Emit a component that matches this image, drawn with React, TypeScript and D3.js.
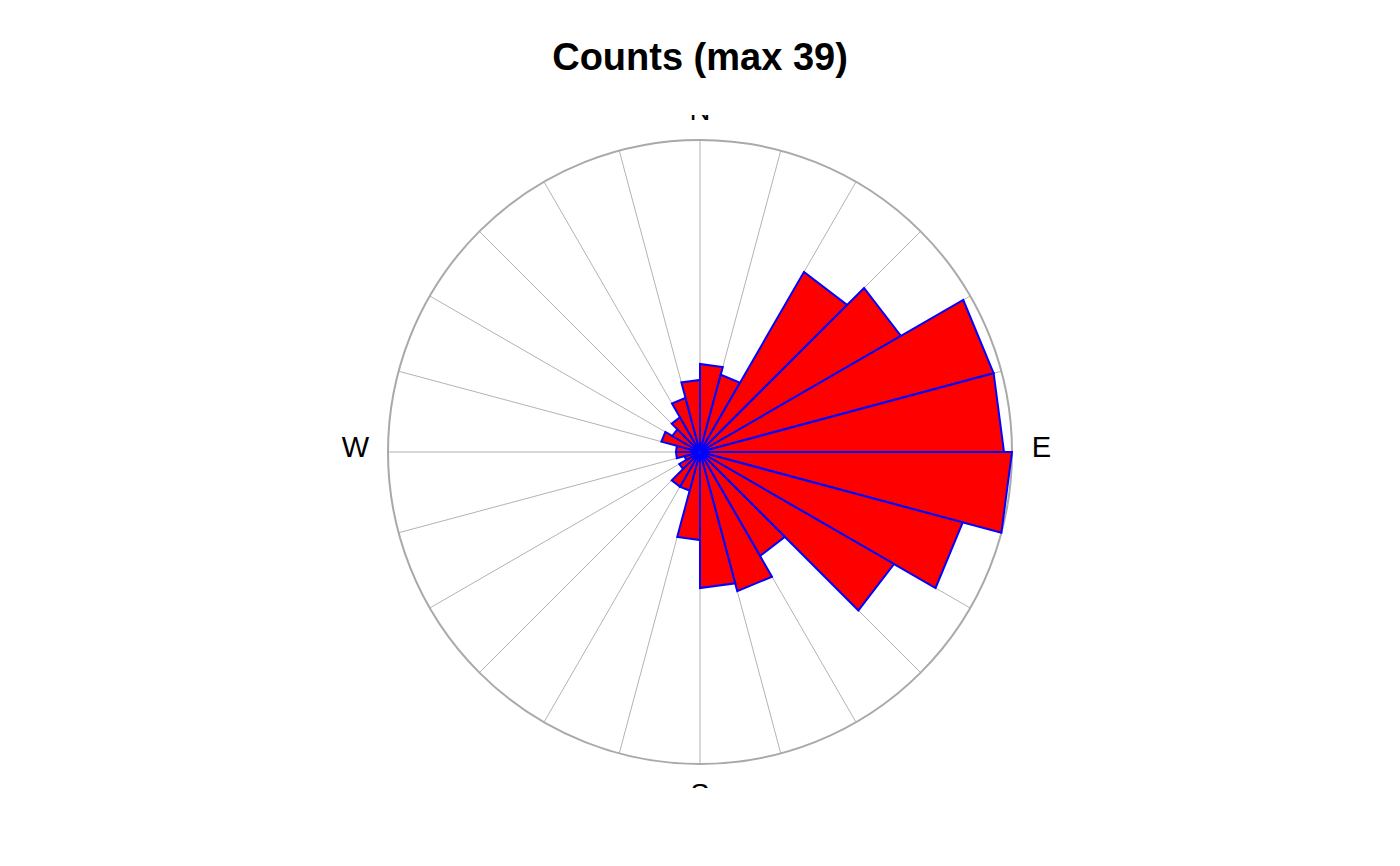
import React from "react";
import * as d3 from "d3";

// Sector counts, 15° bins starting at North, going clockwise
const binStarts = [0, 15, 30, 45, 60, 75, 90, 105, 120, 135, 150, 165, 180, 195, 210, 225, 240, 255, 270, 285, 300, 315, 330, 345];
const counts = [11, 10, 26, 29, 38, 38, 39, 34, 28, 15, 18, 17, 11, 5, 5, 3, 2, 3, 3, 5, 4, 5, 7, 9];
const binWidth = 15;
const directionLabels = ["N", "E", "S", "W"];
const directionAngles = [0, 90, 180, 270];
const title = "Counts (max 39)";

const W = 1400;
const H = 866;
const cx = 700;
const cy = 452;
const R = 312;

export default function App() {
  const maxCount = d3.max(counts) as number;
  const r = d3.scaleLinear().domain([0, maxCount]).range([0, R]);
  const toXY = (deg: number, rad: number): [number, number] => {
    const a = (deg * Math.PI) / 180;
    return [cx + rad * Math.sin(a), cy - rad * Math.cos(a)];
  };
  const gridAngles = d3.range(0, 360, binWidth);
  const line = d3.line();

  return (
    <svg
      width={W}
      height={H}
      style={{ position: "absolute", left: 0, top: 0, background: "#fff" }}
      fontFamily="'Liberation Sans', Arial, Helvetica, sans-serif"
    >
      <defs>
        <clipPath id="plotClip">
          <rect x={0} y={115} width={W} height={673} />
        </clipPath>
      </defs>
      <text x={cx} y={70} textAnchor="middle" fontWeight="bold" fontSize={38} fill="#000">
        {title}
      </text>
      <g clipPath="url(#plotClip)">
        {gridAngles.map((a) => {
          const [x2, y2] = toXY(a, R);
          return <line key={a} x1={cx} y1={cy} x2={x2} y2={y2} stroke="#b3b3b3" strokeWidth={1} />;
        })}
        <circle cx={cx} cy={cy} r={R} fill="none" stroke="#a9a9a9" strokeWidth={2} />
        {counts.map((c, i) => {
          const a0 = binStarts[i];
          const a1 = a0 + binWidth;
          const pts: [number, number][] = [[cx, cy], toXY(a0, r(c)), toXY(a1, r(c))];
          return (
            <path
              key={i}
              d={(line(pts) as string) + "Z"}
              fill="#ff0000"
              stroke="#0000ff"
              strokeWidth={2}
              strokeLinejoin="miter"
            />
          );
        })}
        {directionLabels.map((lab, i) => {
          const ang = directionAngles[i];
          const vertical = ang % 180 === 0;
          const [x, y] = toXY(ang, vertical ? R + 30 : R + 343 - R);
          return (
            <text
              key={lab}
              x={vertical ? x : x - 1.5}
              y={y}
              dy={vertical ? "0.35em" : "0.18em"}
              textAnchor="middle"
              fontSize={29}
              fill="#000"
            >
              {lab}
            </text>
          );
        })}
      </g>
    </svg>
  );
}
